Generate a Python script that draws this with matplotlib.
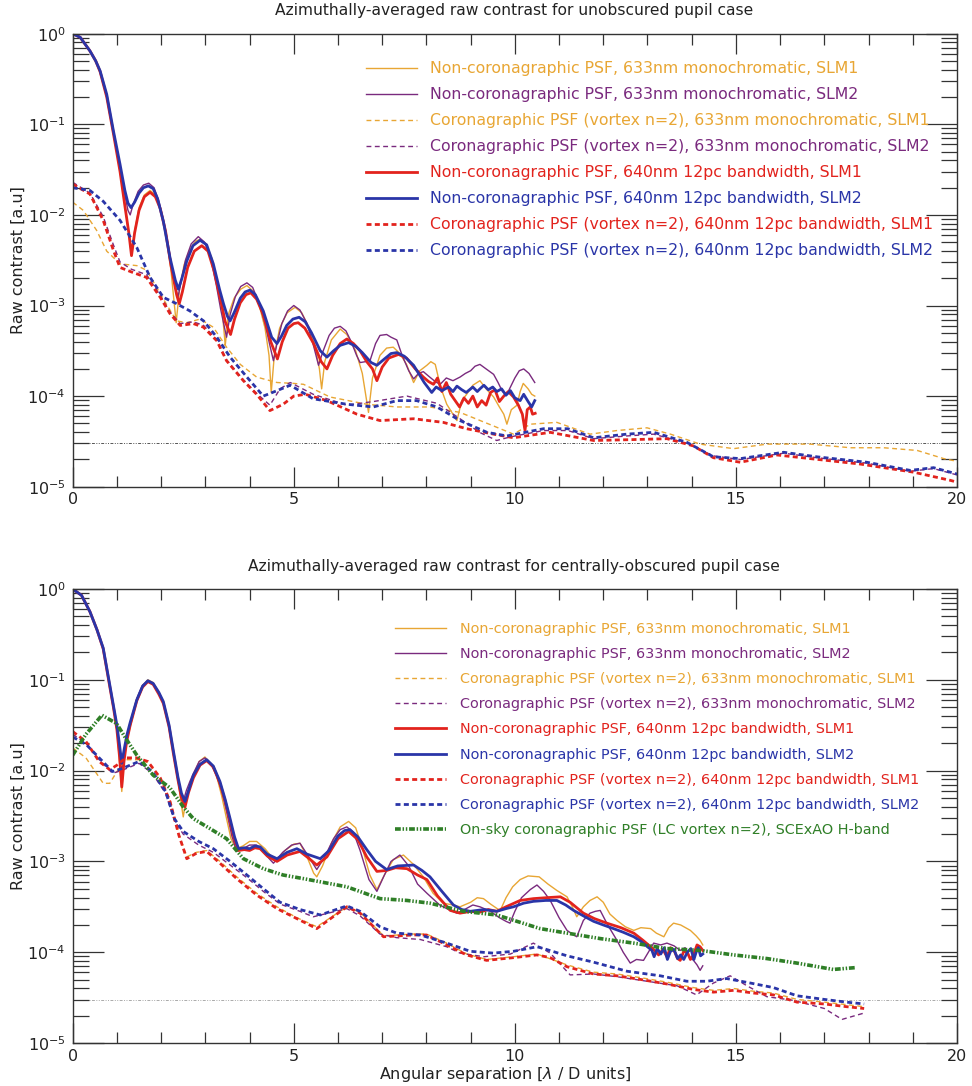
import numpy as np
import matplotlib.pyplot as plt
from matplotlib.ticker import LogLocator, MultipleLocator, NullFormatter

# (angular separation [lambda/D], log10 raw contrast)
# ---- top panel: unobscured pupil ----
top_mono_slm1 = [(0, 0), (0.17, -0.04), (0.39, -0.19), (0.52, -0.30), (0.62, -0.42), (0.77, -0.70),
                 (0.92, -1.10), (1.07, -1.52), (1.18, -1.90), (1.27, -2.20), (1.33, -2.45), (1.40, -2.18),
                 (1.50, -1.92), (1.62, -1.78), (1.75, -1.73), (1.87, -1.78), (1.98, -1.92), (2.10, -2.18),
                 (2.22, -2.60), (2.34, -3.19), (2.42, -2.80), (2.52, -2.55), (2.65, -2.38), (2.78, -2.29),
                 (2.88, -2.27), (3.00, -2.31), (3.15, -2.48), (3.28, -2.75), (3.38, -3.05), (3.45, -3.44),
                 (3.52, -3.10), (3.65, -2.92), (3.80, -2.82), (3.94, -2.78), (4.08, -2.84), (4.22, -3.00),
                 (4.35, -3.25), (4.44, -3.55), (4.49, -3.96), (4.56, -3.55), (4.68, -3.25), (4.85, -3.08),
                 (5.03, -3.02), (5.18, -3.08), (5.35, -3.25), (5.48, -3.45), (5.58, -3.70), (5.63, -3.92),
                 (5.70, -3.62), (5.85, -3.38), (6.05, -3.26), (6.20, -3.32), (6.40, -3.50), (6.55, -3.75),
                 (6.69, -4.18), (6.78, -3.80), (6.95, -3.55), (7.10, -3.47), (7.25, -3.46), (7.40, -3.53),
                 (7.55, -3.65), (7.71, -3.85), (7.85, -3.72), (8.01, -3.66), (8.10, -3.62), (8.20, -3.65),
                 (8.32, -3.90), (8.46, -4.09), (8.60, -4.20), (8.69, -4.27), (8.80, -4.05), (8.91, -3.98),
                 (9.05, -3.88), (9.21, -3.83), (9.35, -3.92), (9.52, -4.01), (9.65, -4.12), (9.75, -4.20),
                 (9.82, -4.31), (9.92, -4.15), (10.05, -4.10), (10.12, -3.95), (10.19, -3.86), (10.30, -3.92),
                 (10.38, -3.98), (10.45, -4.00)]
top_mono_slm2 = [(0, 0), (0.17, -0.04), (0.39, -0.19), (0.52, -0.30), (0.62, -0.41), (0.77, -0.68),
                 (0.92, -1.08), (1.07, -1.46), (1.18, -1.78), (1.25, -1.95), (1.30, -2.00), (1.37, -1.88),
                 (1.48, -1.74), (1.60, -1.67), (1.72, -1.65), (1.84, -1.70), (1.95, -1.85), (2.08, -2.12),
                 (2.20, -2.45), (2.30, -2.75), (2.38, -2.91), (2.46, -2.72), (2.55, -2.50), (2.68, -2.32),
                 (2.84, -2.24), (2.98, -2.30), (3.12, -2.48), (3.25, -2.78), (3.35, -3.05), (3.48, -3.35),
                 (3.56, -3.10), (3.68, -2.90), (3.80, -2.79), (3.94, -2.75), (4.07, -2.80), (4.22, -2.98),
                 (4.35, -3.20), (4.45, -3.42), (4.54, -3.61), (4.62, -3.42), (4.73, -3.20), (4.86, -3.06),
                 (5.00, -3.00), (5.14, -3.05), (5.30, -3.20), (5.45, -3.45), (5.56, -3.66), (5.65, -3.52),
                 (5.80, -3.33), (5.92, -3.25), (6.05, -3.23), (6.18, -3.28), (6.30, -3.40), (6.42, -3.55),
                 (6.50, -3.63), (6.62, -3.62), (6.73, -3.60), (6.85, -3.42), (6.95, -3.33), (7.10, -3.32),
                 (7.20, -3.35), (7.33, -3.38), (7.45, -3.55), (7.60, -3.72), (7.71, -3.81), (7.82, -3.75),
                 (7.93, -3.73), (8.05, -3.78), (8.20, -3.84), (8.31, -3.87), (8.45, -3.80), (8.60, -3.83),
                 (8.76, -3.79), (8.88, -3.75), (9.00, -3.72), (9.10, -3.67), (9.21, -3.65), (9.35, -3.70),
                 (9.52, -3.76), (9.62, -3.85), (9.72, -3.95), (9.82, -3.98), (9.92, -3.88), (10.00, -3.80),
                 (10.10, -3.72), (10.20, -3.70), (10.32, -3.75), (10.45, -3.85)]
top_coro_mono_slm1 = [(0, -1.86), (0.24, -1.95), (0.54, -2.17), (0.77, -2.40), (1.07, -2.54), (1.45, -2.56),
                      (1.67, -2.61), (1.98, -2.87), (2.20, -3.05), (2.35, -3.17), (2.58, -3.19), (2.88, -3.15),
                      (3.18, -3.24), (3.48, -3.46), (3.79, -3.65), (4.16, -3.79), (4.62, -3.85), (5.00, -3.86),
                      (5.22, -3.87), (5.82, -4.01), (6.65, -4.09), (7.33, -4.12), (8.08, -4.12), (8.76, -4.18),
                      (9.52, -4.33), (9.97, -4.42), (10.35, -4.31), (10.95, -4.29), (11.70, -4.42), (12.31, -4.38),
                      (12.99, -4.35), (13.52, -4.42), (14.19, -4.53), (14.95, -4.58), (15.70, -4.53), (16.68, -4.53),
                      (17.59, -4.57), (18.34, -4.57), (19.10, -4.60), (19.70, -4.69), (20.0, -4.72)]
top_coro_mono_slm2 = [(0, -1.64), (0.39, -1.76), (0.69, -2.02), (0.92, -2.33), (1.07, -2.52), (1.33, -2.60),
                      (1.67, -2.66), (1.98, -2.89), (2.20, -3.07), (2.43, -3.20), (2.73, -3.18), (2.96, -3.22),
                      (3.26, -3.38), (3.48, -3.60), (3.86, -3.82), (4.16, -3.97), (4.46, -4.10), (4.69, -3.92),
                      (4.92, -3.85), (5.44, -3.98), (6.20, -4.10), (6.80, -4.06), (7.56, -4.00), (8.24, -4.08),
                      (8.76, -4.25), (9.20, -4.40), (9.59, -4.49), (9.90, -4.45), (10.65, -4.38), (11.20, -4.38),
                      (11.78, -4.47), (12.53, -4.44), (13.14, -4.42), (13.89, -4.52), (14.49, -4.66), (15.10, -4.70),
                      (16.08, -4.63), (16.83, -4.68), (17.96, -4.74), (18.94, -4.83), (19.47, -4.80), (20.0, -4.87)]
top_bw_slm1 = [(0, 0), (0.17, -0.04), (0.39, -0.19), (0.52, -0.30), (0.62, -0.42), (0.77, -0.70),
               (0.92, -1.10), (1.07, -1.52), (1.18, -1.90), (1.27, -2.20), (1.33, -2.45), (1.40, -2.20),
               (1.50, -1.95), (1.62, -1.80), (1.75, -1.75), (1.87, -1.80), (1.98, -1.93), (2.10, -2.18),
               (2.22, -2.55), (2.35, -2.88), (2.41, -2.98), (2.48, -2.85), (2.60, -2.58), (2.75, -2.40),
               (2.92, -2.34), (3.06, -2.40), (3.20, -2.62), (3.35, -2.95), (3.45, -3.18), (3.57, -3.32),
               (3.66, -3.15), (3.79, -2.97), (3.92, -2.88), (4.03, -2.86), (4.16, -2.93), (4.31, -3.10),
               (4.48, -3.40), (4.63, -3.59), (4.74, -3.40), (4.87, -3.25), (5.00, -3.20), (5.10, -3.19),
               (5.25, -3.25), (5.45, -3.42), (5.62, -3.62), (5.75, -3.70), (5.88, -3.55), (6.05, -3.42),
               (6.20, -3.37), (6.35, -3.42), (6.50, -3.50), (6.65, -3.62), (6.78, -3.70), (6.88, -3.83),
               (7.00, -3.68), (7.15, -3.58), (7.37, -3.54), (7.55, -3.58), (7.75, -3.70), (7.93, -3.79),
               (8.05, -3.84), (8.16, -3.87), (8.25, -3.80), (8.35, -3.95), (8.45, -3.85), (8.55, -3.98),
               (8.65, -4.05), (8.75, -4.12), (8.85, -4.02), (8.95, -4.08), (9.05, -4.00), (9.15, -4.12),
               (9.25, -4.05), (9.35, -4.10), (9.45, -3.96), (9.55, -3.93), (9.65, -4.06), (9.75, -4.00),
               (9.85, -3.95), (9.97, -4.01), (10.08, -4.10), (10.17, -4.20), (10.23, -4.38), (10.28, -4.15),
               (10.35, -4.12), (10.40, -4.20), (10.46, -4.19)]
top_bw_slm2 = [(0, 0), (0.17, -0.04), (0.39, -0.19), (0.52, -0.30), (0.62, -0.41), (0.77, -0.67),
               (0.92, -1.07), (1.07, -1.44), (1.18, -1.73), (1.25, -1.87), (1.32, -1.92), (1.40, -1.86),
               (1.50, -1.76), (1.60, -1.70), (1.71, -1.68), (1.82, -1.71), (1.92, -1.82), (2.05, -2.07),
               (2.20, -2.47), (2.32, -2.72), (2.39, -2.82), (2.47, -2.70), (2.58, -2.51), (2.72, -2.34),
               (2.88, -2.28), (3.03, -2.33), (3.18, -2.54), (3.32, -2.82), (3.41, -2.98), (3.50, -3.12),
               (3.56, -3.17), (3.65, -3.08), (3.79, -2.92), (3.90, -2.85), (4.01, -2.83), (4.13, -2.88),
               (4.31, -3.06), (4.50, -3.35), (4.62, -3.42), (4.72, -3.34), (4.84, -3.22), (4.98, -3.15),
               (5.12, -3.13), (5.26, -3.18), (5.40, -3.30), (5.60, -3.50), (5.75, -3.57), (5.90, -3.50),
               (6.05, -3.44), (6.24, -3.41), (6.40, -3.45), (6.55, -3.52), (6.75, -3.63), (6.88, -3.66),
               (7.05, -3.59), (7.20, -3.53), (7.33, -3.52), (7.50, -3.56), (7.71, -3.66), (7.95, -3.85),
               (8.12, -3.96), (8.22, -3.90), (8.35, -3.94), (8.50, -3.90), (8.60, -3.95), (8.69, -3.89),
               (8.80, -3.93), (8.90, -3.96), (9.05, -3.90), (9.15, -3.95), (9.21, -3.92), (9.30, -3.88),
               (9.40, -3.93), (9.50, -3.90), (9.59, -3.95), (9.70, -3.92), (9.80, -3.99), (9.90, -3.94),
               (10.00, -4.02), (10.12, -4.05), (10.20, -3.98), (10.30, -4.06), (10.38, -4.12), (10.45, -4.05)]
top_coro_bw_slm1 = [(0, -1.66), (0.39, -1.77), (0.69, -2.06), (0.92, -2.39), (1.07, -2.58), (1.33, -2.63),
                    (1.67, -2.69), (1.98, -2.91), (2.20, -3.09), (2.43, -3.22), (2.73, -3.20), (2.96, -3.24),
                    (3.26, -3.39), (3.48, -3.61), (3.86, -3.83), (4.16, -3.98), (4.46, -4.16), (4.76, -4.09),
                    (5.00, -4.00), (5.26, -3.98), (5.75, -4.05), (6.43, -4.20), (6.95, -4.27), (7.71, -4.25),
                    (8.38, -4.29), (8.91, -4.36), (9.52, -4.42), (9.97, -4.46), (10.80, -4.40), (11.78, -4.49),
                    (12.68, -4.48), (13.44, -4.47), (14.04, -4.55), (14.49, -4.68), (15.10, -4.73), (15.93, -4.65),
                    (16.68, -4.69), (17.81, -4.75), (19.02, -4.84), (19.85, -4.93), (20.0, -4.95)]
top_coro_bw_slm2 = [(0, -1.70), (0.39, -1.73), (0.69, -1.85), (1.07, -2.06), (1.45, -2.36), (1.75, -2.69),
                    (2.05, -2.91), (2.35, -2.98), (2.65, -3.06), (2.96, -3.17), (3.26, -3.35), (3.56, -3.57),
                    (3.94, -3.79), (4.31, -4.00), (4.62, -3.94), (4.92, -3.88), (5.44, -4.03), (6.20, -4.09),
                    (6.80, -4.12), (7.33, -4.05), (7.78, -4.05), (8.24, -4.12), (8.76, -4.27), (9.37, -4.40),
                    (9.82, -4.44), (10.65, -4.36), (11.20, -4.36), (11.78, -4.46), (12.53, -4.42), (13.14, -4.40),
                    (13.89, -4.51), (14.49, -4.67), (15.10, -4.69), (16.08, -4.62), (16.83, -4.67), (17.96, -4.73),
                    (18.94, -4.82), (19.47, -4.79), (19.85, -4.84), (20.0, -4.86)]

# ---- bottom panel: centrally-obscured pupil ----
bot_mono_slm1 = [(0, 0), (0.2, -0.07), (0.39, -0.25), (0.55, -0.45), (0.69, -0.66), (0.84, -1.08),
                 (0.92, -1.30), (1.0, -1.56), (1.06, -1.90), (1.11, -2.23), (1.16, -1.90), (1.22, -1.68),
                 (1.30, -1.52), (1.45, -1.23), (1.58, -1.07), (1.70, -1.00), (1.82, -1.03), (1.95, -1.14),
                 (2.05, -1.24), (2.18, -1.52), (2.28, -1.80), (2.38, -2.10), (2.45, -2.35), (2.50, -2.51),
                 (2.57, -2.30), (2.65, -2.15), (2.73, -2.05), (2.86, -1.90), (2.99, -1.85), (3.12, -1.92),
                 (3.25, -2.05), (3.37, -2.28), (3.48, -2.53), (3.58, -2.75), (3.70, -2.86), (3.85, -2.83),
                 (4.00, -2.78), (4.16, -2.78), (4.35, -2.86), (4.50, -2.95), (4.62, -2.98), (4.80, -2.88),
                 (5.00, -2.81), (5.14, -2.80), (5.30, -2.95), (5.45, -3.13), (5.52, -3.17), (5.65, -3.05),
                 (5.85, -2.80), (6.05, -2.62), (6.24, -2.56), (6.40, -2.63), (6.55, -2.85), (6.72, -3.15),
                 (6.88, -3.31), (7.05, -3.15), (7.25, -2.98), (7.48, -2.93), (7.70, -3.03), (7.93, -3.17),
                 (8.15, -3.35), (8.38, -3.46), (8.60, -3.48), (8.76, -3.50), (9.00, -3.45), (9.15, -3.40),
                 (9.29, -3.41), (9.45, -3.47), (9.60, -3.52), (9.67, -3.54), (9.80, -3.40), (9.95, -3.28),
                 (10.12, -3.20), (10.30, -3.16), (10.55, -3.17), (10.75, -3.25), (10.95, -3.32), (11.18, -3.39),
                 (11.30, -3.50), (11.40, -3.61), (11.55, -3.50), (11.70, -3.43), (11.86, -3.39), (12.00, -3.45),
                 (12.15, -3.58), (12.31, -3.65), (12.50, -3.72), (12.69, -3.76), (12.85, -3.73), (13.07, -3.74),
                 (13.20, -3.79), (13.37, -3.83), (13.48, -3.73), (13.59, -3.68), (13.75, -3.70), (13.97, -3.76),
                 (14.10, -3.82), (14.19, -3.87), (14.25, -3.92)]
bot_mono_slm2 = [(0, 0), (0.2, -0.07), (0.39, -0.25), (0.55, -0.45), (0.69, -0.65), (0.84, -1.07),
                 (0.92, -1.29), (1.0, -1.52), (1.06, -1.78), (1.11, -2.00), (1.17, -1.80), (1.23, -1.63),
                 (1.30, -1.50), (1.45, -1.21), (1.58, -1.06), (1.70, -1.01), (1.82, -1.04), (1.95, -1.15),
                 (2.05, -1.25), (2.18, -1.52), (2.28, -1.80), (2.38, -2.10), (2.45, -2.28), (2.50, -2.34),
                 (2.57, -2.22), (2.65, -2.12), (2.73, -2.03), (2.86, -1.90), (2.99, -1.86), (3.12, -1.92),
                 (3.25, -2.05), (3.37, -2.22), (3.48, -2.45), (3.60, -2.72), (3.71, -2.89), (3.85, -2.86),
                 (4.00, -2.82), (4.16, -2.82), (4.35, -2.92), (4.54, -3.02), (4.75, -2.90), (4.95, -2.82),
                 (5.14, -2.80), (5.30, -2.92), (5.52, -3.09), (5.70, -2.95), (5.90, -2.75), (6.05, -2.65),
                 (6.20, -2.62), (6.35, -2.68), (6.50, -2.88), (6.70, -3.20), (6.88, -3.33), (7.05, -3.15),
                 (7.20, -3.00), (7.40, -2.93), (7.60, -3.05), (7.80, -3.25), (8.01, -3.35), (8.30, -3.48),
                 (8.50, -3.53), (8.69, -3.57), (8.90, -3.52), (9.05, -3.48), (9.21, -3.50), (9.45, -3.55),
                 (9.65, -3.62), (9.80, -3.66), (9.89, -3.68), (10.00, -3.55), (10.15, -3.40), (10.35, -3.31),
                 (10.50, -3.26), (10.65, -3.33), (10.80, -3.43), (11.00, -3.62), (11.18, -3.76), (11.30, -3.80),
                 (11.40, -3.83), (11.55, -3.65), (11.70, -3.57), (11.82, -3.55), (11.93, -3.54), (12.10, -3.70),
                 (12.31, -3.87), (12.45, -4.00), (12.61, -4.12), (12.75, -4.08), (12.91, -4.09), (13.02, -4.00),
                 (13.14, -3.90), (13.30, -3.92), (13.44, -3.90), (13.60, -3.93), (13.74, -3.98), (13.85, -3.95),
                 (13.95, -4.05), (14.04, -4.09), (14.12, -4.14), (14.19, -4.20), (14.25, -4.15)]
bot_coro_mono_slm1 = [(0, -1.75), (0.30, -1.86), (0.69, -2.14), (0.84, -2.14), (1.0, -2.01), (1.20, -1.88),
                      (1.50, -1.88), (1.70, -1.91), (1.98, -2.08), (2.20, -2.32), (2.40, -2.70), (2.58, -2.95),
                      (2.80, -2.90), (3.03, -2.88), (3.33, -3.00), (3.71, -3.17), (4.16, -3.35), (4.62, -3.50),
                      (5.07, -3.62), (5.52, -3.72), (6.20, -3.50), (6.50, -3.56), (7.03, -3.82), (7.71, -3.80),
                      (8.00, -3.80), (8.46, -3.90), (8.91, -4.02), (9.36, -4.08), (9.97, -4.05), (10.50, -4.02),
                      (11.18, -4.14), (11.78, -4.22), (12.31, -4.24), (12.84, -4.28), (13.44, -4.33), (14.04, -4.39),
                      (14.49, -4.42), (14.95, -4.40), (15.40, -4.43), (15.85, -4.45), (16.38, -4.52), (17.0, -4.55),
                      (17.9, -4.60)]
bot_coro_mono_slm2 = [(0, -1.60), (0.30, -1.70), (0.60, -1.88), (0.90, -2.03), (1.10, -2.00), (1.30, -1.96),
                      (1.50, -1.92), (1.80, -2.03), (2.10, -2.25), (2.30, -2.55), (2.50, -2.70), (2.85, -2.82),
                      (3.18, -2.90), (3.56, -3.04), (3.94, -3.18), (4.31, -3.33), (4.69, -3.47), (5.14, -3.55),
                      (5.44, -3.61), (6.20, -3.52), (6.50, -3.60), (6.95, -3.80), (7.33, -3.84), (7.86, -3.86),
                      (8.46, -3.94), (8.76, -4.01), (9.30, -4.05), (9.90, -4.02), (10.42, -3.90), (10.80, -4.01),
                      (11.25, -4.25), (11.78, -4.24), (12.31, -4.27), (12.99, -4.32), (13.67, -4.37), (14.11, -4.47),
                      (14.49, -4.34), (14.87, -4.26), (15.25, -4.37), (15.70, -4.49), (16.30, -4.53), (17.0, -4.62),
                      (17.4, -4.74), (17.9, -4.67)]
bot_bw_slm1 = [(0, 0), (0.2, -0.07), (0.39, -0.25), (0.55, -0.45), (0.69, -0.66), (0.84, -1.08),
               (0.92, -1.30), (1.0, -1.55), (1.06, -1.85), (1.11, -2.18), (1.16, -1.90), (1.22, -1.68),
               (1.30, -1.50), (1.45, -1.23), (1.58, -1.08), (1.70, -1.02), (1.82, -1.05), (1.95, -1.16),
               (2.05, -1.26), (2.18, -1.52), (2.28, -1.82), (2.38, -2.10), (2.46, -2.30), (2.54, -2.40),
               (2.62, -2.24), (2.73, -2.08), (2.88, -1.94), (3.03, -1.89), (3.18, -1.96), (3.33, -2.14),
               (3.45, -2.34), (3.56, -2.56), (3.66, -2.76), (3.75, -2.88), (3.88, -2.87), (4.0, -2.88),
               (4.12, -2.85), (4.24, -2.86), (4.40, -2.94), (4.62, -3.00), (4.85, -2.93), (5.14, -2.89),
               (5.35, -2.97), (5.52, -3.04), (5.75, -2.95), (6.00, -2.75), (6.24, -2.67), (6.45, -2.76),
               (6.65, -2.95), (6.88, -3.11), (7.10, -3.10), (7.30, -3.07), (7.56, -3.08), (7.80, -3.15),
               (8.01, -3.20), (8.25, -3.38), (8.54, -3.54), (8.76, -3.57), (9.00, -3.55), (9.20, -3.56),
               (9.40, -3.53), (9.59, -3.55), (9.80, -3.50), (10.12, -3.43), (10.42, -3.41), (10.70, -3.40),
               (11.03, -3.39), (11.25, -3.45), (11.55, -3.57), (11.80, -3.63), (12.08, -3.68), (12.40, -3.73),
               (12.69, -3.79), (12.90, -3.87), (13.07, -3.94), (13.18, -3.99), (13.25, -4.03), (13.35, -3.97),
               (13.44, -4.05), (13.52, -3.95), (13.60, -3.98), (13.68, -4.07), (13.74, -4.09), (13.82, -3.99),
               (13.90, -4.00), (13.97, -4.08), (14.04, -4.03), (14.12, -3.92), (14.19, -3.94), (14.25, -3.98)]
bot_bw_slm2 = [(0, 0), (0.2, -0.07), (0.39, -0.25), (0.55, -0.45), (0.69, -0.65), (0.84, -1.06),
               (0.92, -1.28), (1.0, -1.50), (1.06, -1.72), (1.11, -1.92), (1.17, -1.75), (1.23, -1.60),
               (1.30, -1.47), (1.45, -1.22), (1.58, -1.07), (1.70, -1.01), (1.82, -1.04), (1.95, -1.14),
               (2.05, -1.24), (2.18, -1.50), (2.28, -1.79), (2.38, -2.07), (2.46, -2.25), (2.54, -2.34),
               (2.62, -2.22), (2.73, -2.05), (2.88, -1.93), (3.03, -1.88), (3.18, -1.95), (3.33, -2.12),
               (3.45, -2.32), (3.56, -2.53), (3.66, -2.73), (3.75, -2.86), (3.88, -2.85), (4.0, -2.86),
               (4.12, -2.83), (4.24, -2.84), (4.40, -2.92), (4.62, -2.97), (4.85, -2.90), (5.07, -2.86),
               (5.30, -2.92), (5.60, -2.97), (5.80, -2.88), (6.00, -2.72), (6.15, -2.66), (6.27, -2.65),
               (6.45, -2.73), (6.65, -2.87), (6.85, -3.00), (7.10, -3.09), (7.35, -3.05), (7.71, -3.04),
               (7.90, -3.10), (8.08, -3.17), (8.35, -3.33), (8.61, -3.48), (8.80, -3.53), (8.99, -3.55),
               (9.30, -3.53), (9.59, -3.55), (9.80, -3.52), (9.97, -3.50), (10.20, -3.46), (10.42, -3.44),
               (10.70, -3.43), (10.95, -3.43), (11.15, -3.48), (11.33, -3.54), (11.55, -3.60), (11.78, -3.66),
               (12.00, -3.70), (12.23, -3.74), (12.45, -3.78), (12.69, -3.83), (12.85, -3.88), (13.00, -3.94),
               (13.10, -3.98), (13.15, -4.05), (13.22, -3.96), (13.30, -4.02), (13.38, -3.95), (13.45, -4.08),
               (13.52, -3.99), (13.60, -3.97), (13.68, -4.07), (13.75, -4.03), (13.82, -4.08), (13.90, -4.00),
               (13.98, -3.96), (14.05, -4.08), (14.10, -4.00), (14.15, -3.95), (14.20, -4.04), (14.25, -4.02)]
bot_coro_bw_slm1 = [(0, -1.57), (0.30, -1.68), (0.60, -1.90), (0.84, -1.99), (1.0, -1.94), (1.20, -1.86),
                    (1.45, -1.86), (1.70, -1.90), (1.98, -2.08), (2.20, -2.34), (2.40, -2.71), (2.58, -2.97),
                    (2.80, -2.91), (3.03, -2.89), (3.33, -3.02), (3.71, -3.19), (4.16, -3.37), (4.62, -3.52),
                    (5.07, -3.63), (5.52, -3.74), (6.20, -3.50), (6.50, -3.57), (7.03, -3.83), (7.71, -3.81),
                    (8.00, -3.81), (8.46, -3.92), (8.91, -4.03), (9.36, -4.09), (9.97, -4.06), (10.50, -4.03),
                    (10.80, -4.06), (11.18, -4.16), (11.78, -4.24), (12.31, -4.26), (12.84, -4.30), (13.44, -4.35),
                    (14.04, -4.41), (14.49, -4.44), (14.95, -4.42), (15.40, -4.45), (15.85, -4.47), (16.38, -4.55),
                    (17.0, -4.57), (17.5, -4.60), (17.9, -4.62)]
bot_coro_bw_slm2 = [(0, -1.63), (0.30, -1.71), (0.60, -1.86), (0.90, -2.01), (1.10, -1.98), (1.30, -1.94),
                    (1.50, -1.90), (1.80, -2.01), (2.10, -2.23), (2.30, -2.53), (2.50, -2.67), (2.85, -2.78),
                    (3.18, -2.86), (3.56, -3.00), (3.94, -3.15), (4.31, -3.30), (4.69, -3.45), (5.14, -3.53),
                    (5.60, -3.59), (6.20, -3.49), (6.50, -3.55), (6.95, -3.72), (7.33, -3.79), (7.86, -3.81),
                    (8.46, -3.90), (8.99, -3.99), (9.51, -4.01), (9.97, -3.99), (10.50, -3.94), (10.65, -3.96),
                    (11.18, -4.04), (11.78, -4.11), (12.54, -4.21), (13.29, -4.26), (13.89, -4.32), (14.34, -4.32),
                    (14.79, -4.29), (15.33, -4.34), (15.85, -4.39), (16.38, -4.48), (17.0, -4.52), (17.5, -4.55),
                    (17.9, -4.57)]
bot_onsky = [(0, -1.83), (0.30, -1.60), (0.66, -1.39), (0.99, -1.48), (1.22, -1.66), (1.45, -1.83),
             (1.82, -2.05), (2.20, -2.19), (2.50, -2.40), (2.73, -2.53), (3.11, -2.64), (3.48, -2.75),
             (3.86, -2.97), (4.31, -3.08), (4.76, -3.15), (5.22, -3.19), (6.20, -3.28), (6.95, -3.41),
             (7.56, -3.43), (8.08, -3.46), (8.84, -3.55), (9.59, -3.59), (10.57, -3.74), (11.18, -3.79),
             (11.93, -3.85), (12.69, -3.90), (13.44, -3.96), (14.19, -3.98), (14.95, -4.03), (15.70, -4.07),
             (16.38, -4.12), (17.20, -4.19), (17.70, -4.17)]

floor_level = 3e-5

labels = ["Non-coronagraphic PSF, 633nm monochromatic, SLM1",
          "Non-coronagraphic PSF, 633nm monochromatic, SLM2",
          "Coronagraphic PSF (vortex n=2), 633nm monochromatic, SLM1",
          "Coronagraphic PSF (vortex n=2), 633nm monochromatic, SLM2",
          "Non-coronagraphic PSF, 640nm 12pc bandwidth, SLM1",
          "Non-coronagraphic PSF, 640nm 12pc bandwidth, SLM2",
          "Coronagraphic PSF (vortex n=2), 640nm 12pc bandwidth, SLM1",
          "Coronagraphic PSF (vortex n=2), 640nm 12pc bandwidth, SLM2",
          "On-sky coronagraphic PSF (LC vortex n=2), SCExAO H-band"]

orange = '#E8A634'
purple = '#7A2A7E'
red = '#E2231D'
blue = '#2A35A8'
green = '#2F7F27'

thin_dash = (0, (3.5, 2.5))
thick_dash = (0, (1.8, 1.2))
styles = [(orange, 1.0, '-'), (purple, 1.0, '-'), (orange, 1.0, thin_dash), (purple, 1.0, thin_dash),
          (red, 2.0, '-'), (blue, 2.0, '-'), (red, 2.0, thick_dash), (blue, 2.0, thick_dash),
          (green, 2.6, (0, (1.6, 0.5, 0.4, 0.5, 0.4, 0.5)))]

top_series = [top_mono_slm1, top_mono_slm2, top_coro_mono_slm1, top_coro_mono_slm2,
              top_bw_slm1, top_bw_slm2, top_coro_bw_slm1, top_coro_bw_slm2]
bot_series = [bot_mono_slm1, bot_mono_slm2, bot_coro_mono_slm1, bot_coro_mono_slm2,
              bot_bw_slm1, bot_bw_slm2, bot_coro_bw_slm1, bot_coro_bw_slm2, bot_onsky]

W, H = 972, 1086
fig = plt.figure(figsize=(W / 100, H / 100), dpi=100)


def px_rect(l, t, r, b):
    return [l / W, 1 - b / H, (r - l) / W, (b - t) / H]


ax1 = fig.add_axes(px_rect(72.7, 33.7, 957, 486.7))
ax2 = fig.add_axes(px_rect(72.7, 589, 957, 1043))


def draw(ax, series, floor_color):
    for i, pts in enumerate(series):
        col, lw, ls = styles[i]
        x = np.array([p[0] for p in pts])
        y = 10.0 ** np.array([p[1] for p in pts])
        ax.plot(x, y, color=col, lw=lw, ls=ls, label=labels[i])
    ax.axhline(floor_level, color=floor_color, lw=0.7, ls=(0, (3, 1.5, 1, 1.5, 1, 1.5)), zorder=1)
    ax.set_yscale('log')
    ax.set_xlim(0, 20)
    ax.set_ylim(1e-5, 1)
    ax.xaxis.set_major_locator(MultipleLocator(5))
    ax.xaxis.set_minor_locator(MultipleLocator(1))
    ax.yaxis.set_major_locator(LogLocator(base=10, numticks=10))
    ax.yaxis.set_minor_locator(LogLocator(base=10, subs=np.arange(2, 10), numticks=12))
    ax.yaxis.set_minor_formatter(NullFormatter())
    ax.tick_params(which='both', direction='in', top=True, right=True, colors='#333333',
                   labelcolor='#222222', labelsize=11.5, width=0.9)
    ax.tick_params(axis='y', which='major', length=22, pad=5)
    ax.tick_params(axis='y', which='minor', length=11.5)
    ax.tick_params(axis='x', which='major', length=14.5, pad=4)
    ax.tick_params(axis='x', which='minor', length=8)
    for s in ax.spines.values():
        s.set_linewidth(1.0)
        s.set_color('#333333')


draw(ax1, top_series, '#555555')
draw(ax2, bot_series, '#aaaaaa')

ax1.legend(loc='upper left', bbox_to_anchor=(366 / W, 1 - 61.5 / H), bbox_transform=fig.transFigure,
           frameon=False, fontsize=11.3, handlelength=3.25, handletextpad=0.83, labelspacing=0.70,
           borderpad=0, borderaxespad=0, labelcolor='linecolor')
ax2.legend(loc='upper left', bbox_to_anchor=(395 / W, 1 - 622 / H), bbox_transform=fig.transFigure,
           frameon=False, fontsize=10.4, handlelength=3.53, handletextpad=0.97, labelspacing=0.77,
           borderpad=0, borderaxespad=0, labelcolor='linecolor')

fig.text(514 / W, 1 - 11 / H, "Azimuthally-averaged raw contrast for unobscured pupil case",
         ha='center', va='center', fontsize=11.2, color='#222222')
fig.text(514 / W, 1 - 566 / H, "Azimuthally-averaged raw contrast for centrally-obscured pupil case",
         ha='center', va='center', fontsize=11.2, color='#222222')
for yc in (260, 816):
    fig.text(18.5 / W, 1 - yc / H, "Raw contrast [a.u]", rotation=90, ha='center', va='center',
             fontsize=11.5, color='#222222')
fig.text(505 / W, 1 - 1075 / H, "Angular separation [$\\lambda$ / D units]", ha='center', va='center',
         fontsize=11.5, color='#222222')

fig.savefig('out.png', dpi=100)
